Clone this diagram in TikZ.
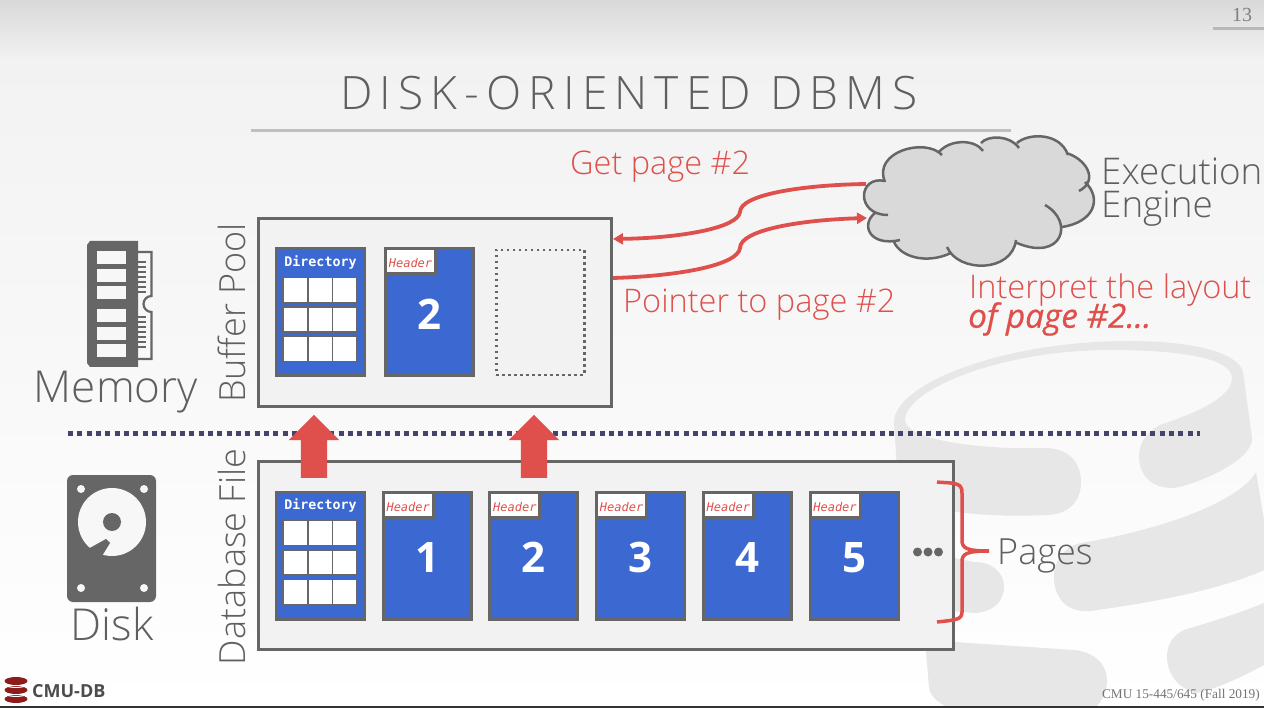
\documentclass[tikz,border=0pt]{standalone}
\usepackage{fontspec}
\usepackage{tikz}
\usetikzlibrary{positioning, arrows.meta, shapes.arrows}
\setmainfont{Open Sans}
\newfontfamily\thinfont{Open Sans Light}
\newfontfamily\titlefont[LetterSpace=15.5]{Open Sans Light}
\newfontfamily\semifont[ItalicFeatures={FakeBold=0.7}]{Open Sans}
\newfontfamily\monofont{DejaVu Sans Mono}
\newfontfamily\serfont{Liberation Serif}

\definecolor{slidegray}{HTML}{666666}
\definecolor{labelgray}{HTML}{5F5F5F}
\definecolor{notered}{HTML}{DF4F4B}
\definecolor{pageblue}{HTML}{3B69D1}
\definecolor{panelgray}{HTML}{F2F2F2}
\definecolor{markgray}{HTML}{E7E7E7}
\definecolor{dotnavy}{HTML}{44446B}
\definecolor{logored}{HTML}{8C1C1C}

% three rows of three cells inside a directory page
\newcommand{\dirgrid}[1]{
    \foreach \rowy in {30,59.5,89} {
        \foreach \colx in {8,32.7,57.4} {
            \draw[cellbox, shift={(#1.north west)}] (\colx,\rowy) rectangle ++(24.7,25);
        }
    }
}

\begin{document}
\begin{tikzpicture}[x=1pt, y=-1pt, node distance=15.7pt,
    panel/.style={draw=slidegray, fill=panelgray, line width=3pt, anchor=north west, inner sep=0pt},
    pagebox/.style={draw=slidegray, fill=pageblue, line width=3pt, minimum width=88pt, minimum height=127pt, inner sep=0pt, text=white, text height=34pt, text depth=0pt, font=\bfseries\fontsize{42}{42}\selectfont},
    headerbox/.style={draw=slidegray, fill=white, line width=3pt, anchor=north west, minimum width=50pt, minimum height=25pt, inner sep=0pt, text=notered, text height=13pt, text depth=0pt, font=\monofont\itshape\fontsize{12}{12}\selectfont},
    dirtext/.style={text=white, inner sep=0pt, font=\monofont\bfseries\fontsize{13.3}{13.3}\selectfont},
    cellbox/.style={draw=slidegray, fill=white, line width=1.6pt},
    sidetext/.style={text=labelgray, inner sep=0pt, font=\thinfont\fontsize{36}{36}\selectfont},
    bigtext/.style={text=labelgray, inner sep=0pt, font=\thinfont\fontsize{44}{44}\selectfont},
    notetext/.style={text=notered, inner sep=0pt, anchor=west, font=\thinfont\fontsize{32.5}{32.5}\selectfont},
    flow/.style={draw=notered, line width=3.8pt, -{Triangle[length=10pt, width=11pt]}},
    bigarrow/.style={single arrow, fill=notered, minimum height=63pt, minimum width=50pt, single arrow head extend=12pt, single arrow head indent=0pt, shape border rotate=90, inner xsep=13pt, inner ysep=0pt},
    watermark/.style={fill=markgray}]

    \useasboundingbox (0,0) rectangle (1264,708);

    % slide background
    \shade[top color=black!15, bottom color=panelgray] (0,0) rectangle (1264,60);
    \shade[top color=panelgray, bottom color=white] (0,60) rectangle (1264,708);

    % database drum behind everything
    \fill[watermark] (894,422) .. controls (894,385) and (1000,341) .. (1130,341)
        .. controls (1190,341) and (1238,352) .. (1243,372) -- (1252,438)
        .. controls (1253,455) and (1220,475) .. (1183,486)
        .. controls (1160,493) and (1139,480) .. (1139,457)
        .. controls (1139,440) and (1150,430) .. (1160,425)
        .. controls (1205,410) and (1232,395) .. (1232,378)
        .. controls (1232,358) and (1180,350) .. (1110,350)
        .. controls (1000,350) and (905,390) .. (905,420)
        .. controls (905,438) and (970,450) .. (1045,448)
        .. controls (1068,448) and (1081,462) .. (1081,482)
        .. controls (1081,502) and (1068,515) .. (1045,515)
        .. controls (1000,517) and (950,515) .. (899,500) -- cycle;
    \fill[watermark] (940,555) -- (974,562) .. controls (992,562) and (1004,572) .. (1004,587)
        .. controls (1004,603) and (990,613) .. (974,613) -- (940,610) -- cycle;
    \fill[watermark] (1256,472) .. controls (1240,500) and (1170,528) .. (1081,543)
        .. controls (1064,547) and (1054,560) .. (1054,577)
        .. controls (1054,597) and (1066,613) .. (1090,611)
        .. controls (1150,603) and (1220,590) .. (1264,570) -- (1264,520) -- cycle;
    \fill[watermark] (1264,603) .. controls (1235,615) and (1210,622) .. (1184,630)
        .. controls (1172,636) and (1167,645) .. (1167,657)
        .. controls (1167,675) and (1180,690) .. (1197,693)
        .. controls (1220,688) and (1245,675) .. (1264,665) -- cycle;
    \fill[watermark] (925,640) -- (1074,650) .. controls (1095,652) and (1107,665) .. (1107,680)
        .. controls (1107,692) and (1102,700) .. (1097,706) -- (945,706)
        .. controls (935,700) and (930,695) .. (929,687) -- cycle;

    % title and page furniture
    \node[inner sep=0pt, text=labelgray, font=\titlefont\fontsize{46}{46}\selectfont] (title) at (629,93) {DISK-ORIENTED DBMS};
    \fill[black!25] (251,129.5) rectangle (1011,132.5);
    \node[inner sep=0pt, text=black!50, font=\serfont\fontsize{20}{20}\selectfont] (slideno) at (1242,15) {13};
    \fill[black!28] (1213,27.5) rectangle (1264,30.5);
    \node[inner sep=0pt, anchor=east, text=black!55, font=\serfont\fontsize{13.3}{13.3}\selectfont] (course) at (1260,695) {CMU 15-445/645 (Fall 2019)};
    \fill[black!80] (0,706) rectangle (1264,708);

    % logo
    \fill[logored] (16,681) ellipse (11.5 and 4);
    \fill[logored] (16,690) ellipse (11.5 and 4);
    \fill[logored] (16,699) ellipse (11.5 and 4);
    \draw[white, line width=1pt] (4.5,685.5) .. controls (10,688) and (22,688) .. (27.5,685.5);
    \draw[white, line width=1pt] (4.5,694.5) .. controls (10,697) and (22,697) .. (27.5,694.5);
    \node[inner sep=0pt, anchor=west, text=black!70, font=\bfseries\fontsize{18}{18}\selectfont] (logo) at (32,691) {CMU-DB};

    % the two containers
    \node[panel, minimum width=353pt, minimum height=188pt] (pool) at (257,217) {};
    \node[panel, minimum width=695pt, minimum height=188pt] (file) at (257,460) {};
    \node[sidetext, rotate=90] (pooltext) at (232,313) {Buffer Pool};
    \node[sidetext, rotate=90] (filetext) at (232,557) {Database File};

    % pages in the buffer pool
    \node[pagebox] (pooldir) at (320.5,312.5) {};
    \node[pagebox, right=18pt of pooldir] (poolpage) {2};
    \node[draw=slidegray, line width=2.5pt, dash pattern=on 2.5pt off 3.5pt, minimum width=88pt, minimum height=125pt, right=20pt of poolpage] (poolfree) {};
    \node[dirtext, below=7.5pt of pooldir.north] (pooldirtext) {Directory};
    \dirgrid{pooldir}
    \node[headerbox] (poolhead) at (poolpage.north west) {Header};

    % pages in the database file
    \node[pagebox] (filedir) at (320.5,555.5) {};
    \node[pagebox, right=of filedir] (page1) {1};
    \node[pagebox, right=of page1] (page2) {2};
    \node[pagebox, right=of page2] (page3) {3};
    \node[pagebox, right=of page3] (page4) {4};
    \node[pagebox, right=of page4] (page5) {5};
    \node[dirtext, below=7.5pt of filedir.north] (filedirtext) {Directory};
    \dirgrid{filedir}
    \node[headerbox] (head1) at (page1.north west) {Header};
    \node[headerbox] (head2) at (page2.north west) {Header};
    \node[headerbox] (head3) at (page3.north west) {Header};
    \node[headerbox] (head4) at (page4.north west) {Header};
    \node[headerbox] (head5) at (page5.north west) {Header};
    \fill[slidegray] (917.5,552) circle (4.5) (928,552) circle (4.5) (938.5,552) circle (4.5);

    % memory / disk boundary
    \coordinate (lineleft) at (68,434);
    \coordinate (lineright) at (1200,434);
    \draw[dotnavy, line width=5pt, dash pattern=on 5pt off 4.33pt] (lineleft) -- (lineright);
    \node[bigarrow] (fetchdir) at (314,453) {};
    \node[bigarrow] (fetchpage) at (534,453) {};

    % memory module
    \fill[slidegray] (90,241) -- (138,241) -- (138,367) -- (90,367) -- (87,363) -- (87,245) -- cycle;
    \foreach \rowy in {251,269,286,309.3,327.3,344.3} {
        \fill[black!3] (97,\rowy) rectangle (126,\rowy+13);
    }
    \draw[slidegray, line width=2.2pt] (138,252) -- (151.5,252) -- (151.5,296) arc[start angle=-90, end angle=-270, radius=8] -- (151.5,359) -- (138,359);
    \foreach \piny in {262,267,272,277,282,287,292,317,322,327,332,337,342,347} {
        \draw[slidegray, line width=2.4pt] (138,\piny) -- (146,\piny);
    }
    \node[bigtext] (memtext) at (116,392.5) {Memory};

    % hard disk
    \fill[slidegray, rounded corners=6pt] (67,475) rectangle (156,602);
    \fill[black!3] (81,489) circle (4) (144,489) circle (4) (81,588) circle (4) (144,588) circle (4);
    \fill[black!3] (112,522) circle (34);
    \fill[slidegray] (112,522) circle (9);
    \fill[slidegray] (88,549) -- (106,539) -- (110,543) -- (102,556) -- (92,560) -- cycle;
    \node[bigtext] (disktext) at (112,624) {Disk};

    % execution engine cloud
    \filldraw[fill=black!15, draw=black!15, line width=2pt] (885,182) -- (942,155) -- (939,152) -- (983,151) -- (981,143) -- (1019,148) -- (1017,143) -- (1068,155) -- (1066,153) -- (1079,191) -- (1085,182) -- (1062,227) -- (1017,243) -- (947,247) -- (951,253) -- (894,242) -- (900,240) -- (875,213) -- (888,215) -- cycle;
    \filldraw[fill=black!15, draw=slidegray, line width=2.5pt]
        (885,182) .. controls (872,152) and (925,137) .. (942,155)
        (939,152) .. controls (950,139) and (975,139) .. (983,151)
        (981,143) .. controls (988,135) and (1010,135) .. (1019,148)
        (1017,143) .. controls (1028,133) and (1060,132) .. (1068,155)
        (1066,153) .. controls (1085,158) and (1100,180) .. (1079,191)
        (1085,182) .. controls (1102,198) and (1095,222) .. (1062,227)
        (1045,205) .. controls (1075,222) and (1062,262) .. (1017,243)
        (1016,240) .. controls (1012,273) and (958,273) .. (947,247)
        (951,253) .. controls (925,265) and (900,256) .. (894,242)
        (900,240) .. controls (870,247) and (860,225) .. (875,213)
        (888,215) .. controls (855,215) and (858,175) .. (885,181);
    \node[sidetext, anchor=west, align=left, font=\thinfont\fontsize{36.8}{33}\selectfont] (exectext) at (1101,192.5) {Execution\\Engine};

    % request and reply between cloud and pool
    \coordinate (cloudout) at (866,184);
    \coordinate (cloudin) at (867,218);
    \coordinate (poolin) at (pool.east |- 0,239);
    \coordinate (poolout) at (pool.east |- 0,278);
    \draw[flow] (cloudout) .. controls (800,185) and (740,195) .. (740,212) .. controls (738,228) and (680,238) .. (poolin);
    \draw[flow] (poolout) .. controls (680,276) and (738,265) .. (740,248) .. controls (740,230) and (800,220) .. (cloudin);
    \node[notetext] (gettext) at (570,167) {Get page \#2};
    \node[notetext] (ptrtext) at (623,305) {Pointer to page \#2};
    \node[notetext] (layouttext) at (969,290.5) {Interpret the layout};
    \node[notetext, font=\semifont\itshape\fontsize{33.3}{33.3}\selectfont] (oftext) at (968,319) {of page \#2...};

    % brace round the pages
    \coordinate (bracetop) at (937,482);
    \coordinate (bracebot) at (937,622);
    \coordinate (bracetip) at (989,551);
    \draw[notered, line width=3.5pt] (bracetop) .. controls (945,483) and (955,482) .. (960,486) .. controls (962,488) and (962,490) .. (962,494) -- (962,540) .. controls (962,548) and (966,551) .. (bracetip) .. controls (966,551) and (962,554) .. (962,562) -- (962,612) .. controls (962,620) and (955,620) .. (bracebot);
    \node[sidetext, anchor=west] (pagestext) at (997,556) {Pages};
\end{tikzpicture}
\end{document}
